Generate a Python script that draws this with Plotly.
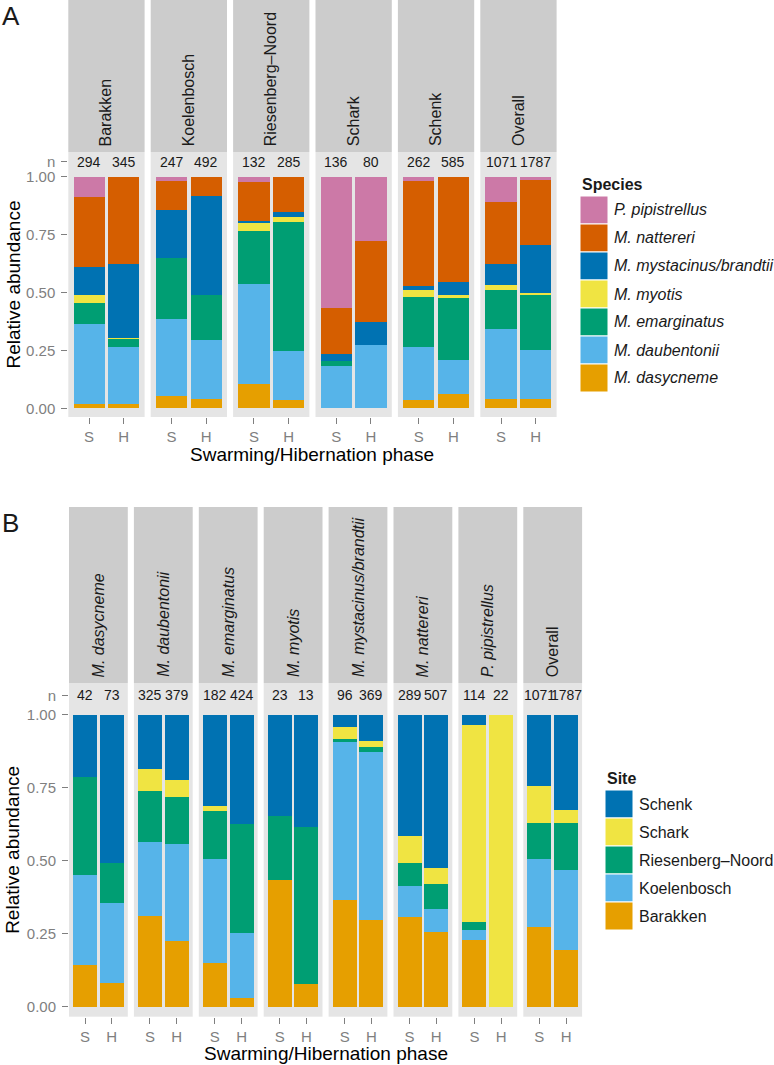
import plotly.graph_objects as go

# ---------------- data (counts) ----------------
phases = ["S", "H"]
sites = ["Barakken", "Koelenbosch", "Riesenberg–Noord", "Schark", "Schenk"]
species = ["M. dasycneme", "M. daubentonii", "M. emarginatus", "M. myotis",
           "M. mystacinus/brandtii", "M. nattereri", "P. pipistrellus"]

# counts per species (same order as `species`) for each site and phase
barakken_S = [6, 101, 27, 10, 35, 89, 26]
barakken_H = [6, 85, 13, 1, 110, 130, 0]
koelenbosch_S = [13, 82, 65, 0, 52, 31, 4]
koelenbosch_H = [20, 126, 94, 0, 212, 40, 0]
riesenberg_S = [14, 57, 30, 5, 1, 22, 3]
riesenberg_H = [10, 61, 158, 7, 6, 43, 0]
schark_S = [0, 25, 3, 0, 4, 27, 77]
schark_H = [0, 22, 0, 0, 8, 28, 22]
schenk_S = [9, 60, 57, 8, 4, 120, 4]
schenk_H = [37, 85, 159, 5, 33, 266, 0]

species_colors = ["#E69F00", "#56B4E9", "#009E73", "#F0E442",
                  "#0072B2", "#D55E00", "#CC79A7"]
site_colors = ["#E69F00", "#56B4E9", "#009E73", "#F0E442", "#0072B2"]
y_ticks = [0, 0.25, 0.5, 0.75, 1.0]
y_ticktext = ["0.00", "0.25", "0.50", "0.75", "1.00"]

counts = {
    "S": [barakken_S, koelenbosch_S, riesenberg_S, schark_S, schenk_S],
    "H": [barakken_H, koelenbosch_H, riesenberg_H, schark_H, schenk_H],
}

# ---------------- layout geometry (pixels) ----------------
W, H = 774, 1065
FONT = "Liberation Sans, Arial, Helvetica, sans-serif"
GREY = "#7F7F7F"
DARK = "#1A1A1A"


def fx(px):
    return px / W


def fy(py):
    return 1 - py / H


A = dict(left=68.3, w=76.3, step=82.4, top=152, bot=417, strip_top=0,
         yr=[-0.0376, 1.108])
B = dict(left=69.0, w=58.8, step=64.9, top=683, bot=1016.7, strip_top=507,
         yr=[-0.034, 1.1086])
N_Y = 1.066

fig = go.Figure()
layout = dict(width=W, height=H, margin=dict(l=0, r=0, t=0, b=0),
              paper_bgcolor="white", plot_bgcolor="#E5E5E5",
              barmode="stack", bargap=0.1, showlegend=False,
              font=dict(family=FONT, color=DARK))
annotations = []
shapes = []

# facets for panel A: per site (+ overall), stacked by species
facetsA = []
for si, s in enumerate(sites):
    facetsA.append((s, {p: counts[p][si] for p in phases}))
facetsA.append(("Overall", {p: [sum(c[k] for c in counts[p]) for k in range(len(species))]
                            for p in phases}))

# facets for panel B: per species (+ overall), stacked by site
facetsB = []
for k, sp in enumerate(species):
    facetsB.append((sp, {p: [counts[p][si][k] for si in range(len(sites))] for p in phases}))
facetsB.append(("Overall", {p: [sum(c) for c in counts[p]] for p in phases}))


def add_row(facets, geo, names, colors, italic_strip, axis_offset):
    for i, (label, data) in enumerate(facets):
        k = axis_offset + i + 1
        xa = "x" if k == 1 else f"x{k}"
        ya = "y" if k == 1 else f"y{k}"
        x0 = geo["left"] + i * geo["step"]
        x1 = x0 + geo["w"]
        totals = {p: sum(data[p]) for p in phases}
        for j, name in enumerate(names):
            fig.add_trace(go.Bar(
                x=phases, y=[data[p][j] / totals[p] for p in phases],
                marker=dict(color=colors[j], line=dict(width=0)),
                name=name, xaxis=xa, yaxis=ya, showlegend=False,
                hovertemplate=name + ": %{y:.3f}<extra></extra>"))
        first = (i == 0)
        layout["xaxis" if k == 1 else f"xaxis{k}"] = dict(
            domain=[fx(x0), fx(x1)], anchor=ya, type="category",
            categoryorder="array", categoryarray=phases, range=[-0.6, 1.6],
            showgrid=False, zeroline=False, showline=False,
            ticks="outside", ticklen=6, tickwidth=1.2, tickcolor=GREY,
            tickfont=dict(size=15, color=GREY, family=FONT), fixedrange=True)
        layout["yaxis" if k == 1 else f"yaxis{k}"] = dict(
            domain=[fy(geo["bot"]), fy(geo["top"])], anchor=xa,
            range=geo["yr"], showgrid=False, zeroline=False, showline=False,
            tickmode="array", tickvals=y_ticks + [N_Y], ticktext=y_ticktext + ["n"],
            ticks="outside" if first else "", ticklen=6, tickwidth=1.2, tickcolor=GREY,
            showticklabels=first, ticklabelstandoff=3,
            tickfont=dict(size=15, color=GREY, family=FONT), fixedrange=True)
        # n labels
        for p in phases:
            annotations.append(dict(
                x=p, y=N_Y, xref=xa, yref=ya, text=str(totals[p]), showarrow=False,
                font=dict(size=14, color=DARK, family=FONT), xanchor="center", yanchor="middle"))
        # strip
        shapes.append(dict(type="rect", xref="paper", yref="paper",
                           x0=fx(x0), x1=fx(x1), y0=fy(geo["top"]), y1=fy(geo["strip_top"]),
                           fillcolor="#CCCCCC", line=dict(width=0), layer="below"))
        txt = f"<i>{label}</i>" if (italic_strip and label != "Overall") else label
        annotations.append(dict(
            x=fx((x0 + x1) / 2), y=fy(geo["top"] - 4), xref="paper", yref="paper",
            text=txt, textangle=-90, showarrow=False, xanchor="center", yanchor="bottom",
            font=dict(size=16, color=DARK, family=FONT)))
    # axis titles
    left = geo["left"]
    right = geo["left"] + (len(facets) - 1) * geo["step"] + geo["w"]
    annotations.append(dict(
        x=fx((left + right) / 2), y=fy(geo["bot"] + 37), xref="paper", yref="paper",
        text="Swarming/Hibernation phase", showarrow=False, xanchor="center", yanchor="middle",
        font=dict(size=19, color="black", family=FONT)))
    annotations.append(dict(
        x=fx(13), y=fy((geo["top"] + geo["bot"]) / 2), xref="paper", yref="paper",
        text="Relative abundance", textangle=-90, showarrow=False,
        xanchor="center", yanchor="middle", font=dict(size=19, color="black", family=FONT)))


add_row(facetsA, A, species, species_colors, False, 0)
add_row(facetsB, B, sites, site_colors, True, len(facetsA))


def add_legend(title, names, colors, x_key, y_title, y_keys, italic):
    annotations.append(dict(x=fx(x_key), y=fy(y_title), xref="paper", yref="paper",
                            text=f"<b>{title}</b>", showarrow=False, xanchor="left",
                            yanchor="middle", font=dict(size=16, color=DARK, family=FONT)))
    order = list(range(len(names)))[::-1]
    for r, j in enumerate(order):
        ky0 = y_keys + r * 28
        shapes.append(dict(type="rect", xref="paper", yref="paper",
                           x0=fx(x_key), x1=fx(x_key + 28), y0=fy(ky0 + 28), y1=fy(ky0),
                           fillcolor=colors[j], line=dict(color="white", width=1)))
        lbl = f"<i>{names[j]}</i>" if italic else names[j]
        annotations.append(dict(x=fx(x_key + 32), y=fy(ky0 + 14), xref="paper", yref="paper",
                                text=lbl, showarrow=False, xanchor="left", yanchor="middle",
                                font=dict(size=16, color=DARK, family=FONT)))


add_legend("Species", species, species_colors, 580, 184, 196, True)
add_legend("Site", sites, site_colors, 605, 778, 790, False)

# panel letters
annotations.append(dict(x=0, y=fy(16), xref="paper", yref="paper", text="A", showarrow=False,
                        xanchor="left", yanchor="middle", font=dict(size=26, color=DARK, family=FONT)))
annotations.append(dict(x=0, y=fy(523), xref="paper", yref="paper", text="B", showarrow=False,
                        xanchor="left", yanchor="middle", font=dict(size=26, color=DARK, family=FONT)))

layout["annotations"] = annotations
layout["shapes"] = shapes
fig.update_layout(**layout)
fig.write_html("out.html", config={"displayModeBar": False},
               post_script="document.body.style.margin='0';document.body.style.padding='0';")
